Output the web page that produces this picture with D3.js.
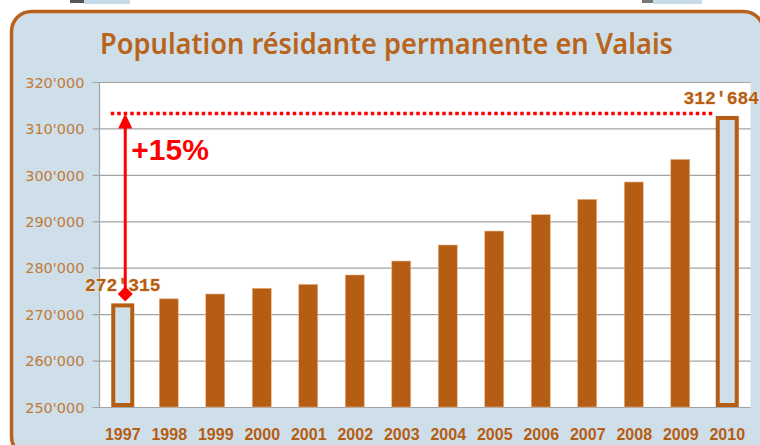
<!DOCTYPE html>
<html>
<head>
<meta charset="utf-8">
<script src="https://cdn.jsdelivr.net/npm/d3@7"></script>
<style>
  html, body { margin: 0; padding: 0; background: #ffffff; }
  svg { display: block; }
</style>
</head>
<body>
<div id="chart"></div>
<script>
// --- Daten ---
const years = ['1997', '1998', '1999', '2000', '2001', '2002', '2003',
               '2004', '2005', '2006', '2007', '2008', '2009', '2010'];
const population = [272315, 273300, 274340, 275570, 276420, 278430, 281440,
                    284890, 287900, 291420, 294730, 298460, 303340, 312684];
const yTicks = [250000, 260000, 270000, 280000, 290000, 300000, 310000, 320000];
const highlightYears = ['1997', '2010'];
const chartTitle = 'Population résidante permanente en Valais';
const growthLabel = '+15%';

(function () {
  'use strict';

  const W = 760, H = 445;
  const BROWN = '#b55d13';
  const TITLE_BROWN = '#b9641d';
  const LABEL_BROWN = '#c07a38';
  const PANEL = '#cfdfe9';
  const GRID = '#a3a3a3';

  const fmt = d3.formatLocale({ decimal: '.', thousands: "'", grouping: [3], currency: ['', ''] }).format(',d');

  const data = years.map((y, i) => ({ year: y, value: population[i], hl: highlightYears.includes(y) }));

  const svg = d3.select('#chart').append('svg')
    .attr('width', W)
    .attr('height', H);

  // kleine Artefakte oben (Reste des Screenshots)
  svg.append('rect').attr('x', 70).attr('y', 0).attr('width', 14).attr('height', 3).attr('fill', '#555');
  svg.append('rect').attr('x', 84).attr('y', 0).attr('width', 46).attr('height', 4).attr('fill', '#c5dbe8');
  svg.append('rect').attr('x', 642).attr('y', 0).attr('width', 11).attr('height', 3).attr('fill', '#777');
  svg.append('rect').attr('x', 653).attr('y', 0).attr('width', 49).attr('height', 4).attr('fill', '#c5dbe8');

  // Rahmen
  svg.append('rect')
    .attr('x', 11.5).attr('y', 11.5)
    .attr('width', 752).attr('height', 445)
    .attr('rx', 20).attr('ry', 20)
    .attr('fill', PANEL)
    .attr('stroke', '#b8601c')
    .attr('stroke-width', 3.5);

  // Titel
  svg.append('text')
    .attr('x', 100).attr('y', 54)
    .attr('textLength', 573)
    .attr('lengthAdjust', 'spacingAndGlyphs')
    .attr('fill', TITLE_BROWN)
    .attr('font-family', "'Noto Sans', sans-serif")
    .attr('font-weight', 600)
    .attr('font-size', '29px')
    .text(chartTitle);

  // --- Skalen ---
  const plotL = 99.5, plotR = 750.5, plotT = 82, plotB = 407;

  const x = d3.scaleBand()
    .domain(years)
    .range([plotL, plotR])
    .paddingInner(0.57)
    .paddingOuter(0.285);

  const y = d3.scaleLinear()
    .domain([250000, 320000])
    .range([plotB, plotT]);

  // Plotfläche
  svg.append('rect')
    .attr('x', plotL).attr('y', plotT)
    .attr('width', plotR - plotL).attr('height', plotB - plotT)
    .attr('fill', '#ffffff');

  // Y-Achse mit Gitterlinien
  const yAxis = svg.append('g')
    .attr('transform', `translate(${plotL},0)`)
    .call(d3.axisLeft(y)
      .tickValues(yTicks)
      .tickFormat(fmt)
      .tickSize(-(plotR - plotL))
      .tickPadding(15));

  yAxis.select('.domain').remove();
  yAxis.selectAll('.tick line')
    .attr('stroke', GRID)
    .attr('stroke-width', 1.2)
    .attr('x1', -7);
  yAxis.selectAll('.tick text')
    .attr('fill', LABEL_BROWN)
    .attr('font-family', "'DejaVu Sans', sans-serif")
    .attr('font-size', '14.5px')
    .attr('dy', '0.36em');

  // linke Achsenlinie
  svg.append('line')
    .attr('x1', plotL).attr('x2', plotL)
    .attr('y1', plotT).attr('y2', plotB)
    .attr('stroke', GRID)
    .attr('stroke-width', 1.2);

  // X-Achse
  const xAxis = svg.append('g')
    .attr('transform', `translate(0,${plotB})`)
    .call(d3.axisBottom(x).tickSize(0).tickPadding(22));

  xAxis.select('.domain').remove();
  xAxis.selectAll('.tick text')
    .attr('fill', BROWN)
    .attr('font-family', "'Liberation Sans', sans-serif")
    .attr('font-weight', 700)
    .attr('font-size', '16px');

  // --- Balken ---
  svg.append('g')
    .selectAll('rect')
    .data(data.filter(d => !d.hl))
    .join('rect')
    .attr('x', d => x(d.year))
    .attr('y', d => y(d.value))
    .attr('width', x.bandwidth() - 1)
    .attr('height', d => plotB - y(d.value))
    .attr('fill', BROWN)
    .attr('stroke', '#e9b58a')
    .attr('stroke-width', 0.6);

  // hervorgehobene Balken (nur Umriss)
  svg.append('g')
    .selectAll('rect')
    .data(data.filter(d => d.hl))
    .join('rect')
    .attr('x', d => x(d.year) + 0.5)
    .attr('y', d => y(d.value) + 2)
    .attr('width', x.bandwidth() - 1)
    .attr('height', d => plotB - y(d.value) - 4)
    .attr('fill', PANEL)
    .attr('stroke', BROWN)
    .attr('stroke-width', 4);

  // Werte der hervorgehobenen Balken
  svg.append('g')
    .selectAll('text')
    .data(data.filter(d => d.hl))
    .join('text')
    .attr('x', d => x(d.year) + x.bandwidth() / 2 + (d.year === '2010' ? -6 : 0))
    .attr('y', d => y(d.value) - 12)
    .attr('text-anchor', 'middle')
    .attr('fill', BROWN)
    .attr('stroke', '#f3dcc6')
    .attr('stroke-width', 1)
    .attr('paint-order', 'stroke')
    .attr('font-family', "'Liberation Mono', monospace")
    .attr('font-weight', 700)
    .attr('font-size', '18px')
    .text(d => fmt(d.value));

  // --- Wachstums-Markierung ---
  const first = data[0], last = data[data.length - 1];
  const lineY = y(last.value) - 2.5;
  const arrowX = x(first.year) + x.bandwidth() / 2 + 2.5;
  const diamondY = y(first.value) - 9.5;

  svg.append('line')
    .attr('x1', x(first.year) - 2).attr('x2', x(last.year) - 2)
    .attr('y1', lineY).attr('y2', lineY)
    .attr('stroke', '#ff0000')
    .attr('stroke-width', 3.5)
    .attr('stroke-dasharray', '3.5 3');

  svg.append('line')
    .attr('x1', arrowX).attr('x2', arrowX)
    .attr('y1', lineY + 12).attr('y2', diamondY - 4)
    .attr('stroke', '#ff0000')
    .attr('stroke-width', 3);

  svg.append('path')
    .attr('d', `M${arrowX},${lineY} L${arrowX + 7},${lineY + 15} L${arrowX - 7},${lineY + 15} Z`)
    .attr('fill', '#ff0000');

  svg.append('path')
    .attr('d', `M${arrowX},${diamondY - 7.5} L${arrowX + 7.5},${diamondY} L${arrowX},${diamondY + 7.5} L${arrowX - 7.5},${diamondY} Z`)
    .attr('fill', '#ff0000');

  svg.append('text')
    .attr('x', arrowX + 6).attr('y', lineY + 47)
    .attr('fill', '#ff0000')
    .attr('font-family', "'Liberation Sans', sans-serif")
    .attr('font-weight', 700)
    .attr('font-size', '30px')
    .text(growthLabel);
})();
</script>
</body>
</html>
